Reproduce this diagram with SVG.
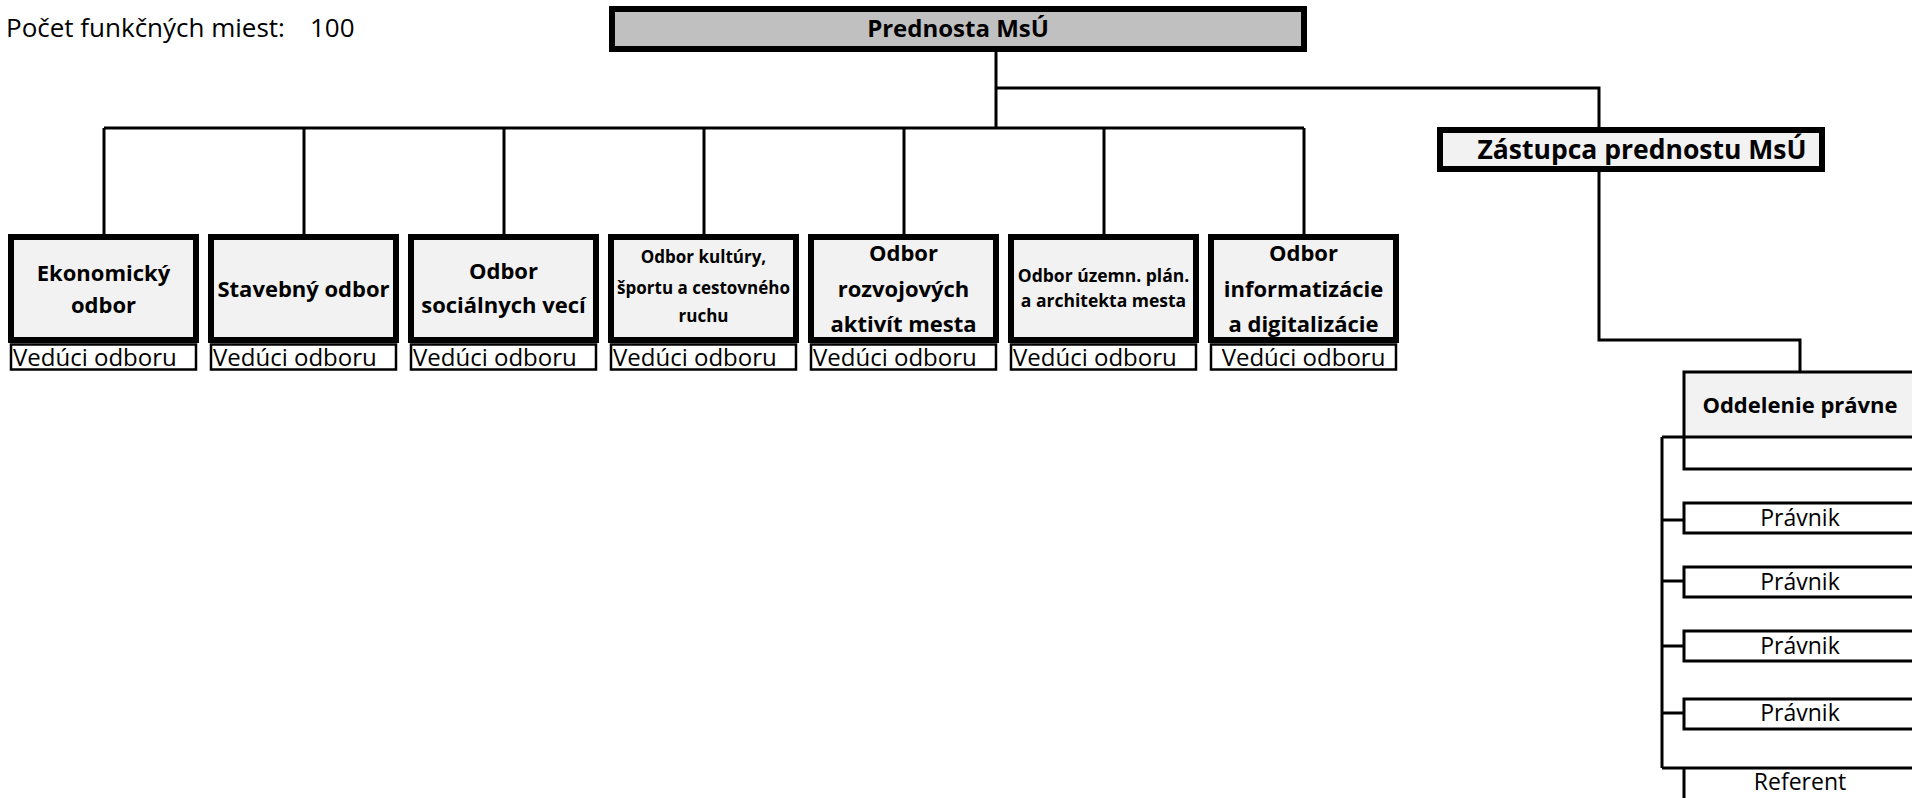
<svg xmlns="http://www.w3.org/2000/svg" width="1912" height="798" viewBox="0 0 1912 798">
<style>
text{font-family:"Open Sans","Liberation Sans",sans-serif;fill:#000}
.b{font-weight:bold;text-anchor:middle}
.big{font-size:22px}
.sm{font-size:17px}
.hd{font-size:24px}
.reg{font-size:24px}
.pr{font-size:23px}
.mid{text-anchor:middle}
.dept{fill:#f2f2f2;stroke:#000;stroke-width:6}
.head{fill:#c0c0c0;stroke:#000;stroke-width:6}
.lead{fill:#fff;stroke:#000;stroke-width:2.5}
.thin{fill:#fff;stroke:#000;stroke-width:3}
.grey{fill:#f2f2f2;stroke:none}
.con{fill:none;stroke:#000;stroke-width:3}
</style>
<rect width="1912" height="798" fill="#fff"/>
<text x="6" y="37" style="font-size:26px">Počet funkčných miest:</text>
<text x="310" y="37" style="font-size:26px">100</text>

<g id="connectors">
<path class="con" d="M996 52V128M104 128H1304M104 128V234M304 128V234M504 128V234M704 128V234M904 128V234M1104 128V234M1304 128V234"/>
<path class="con" d="M996 88H1599V127"/>
<path class="con" d="M1599 172V340H1800V372"/>
<path class="con" d="M1662 437V768M1662 520H1684M1662 581H1684M1662 646H1684M1662 713H1684"/>
</g>

<g id="prednosta">
<rect class="head" x="612" y="9" width="692" height="40"/>
<text class="b hd" x="958" y="37">Prednosta MsÚ</text>
</g>

<g id="zastupca">
<rect class="dept" x="1440" y="130" width="382" height="39"/>
<text class="b" x="1642" y="159" style="font-size:26.5px">Zástupca prednostu MsÚ</text>
</g>

<g id="ekonomicky">
<rect class="dept" x="11" y="237" width="185" height="103"/>
<text class="b big" x="103.5" y="281">Ekonomický</text>
<text class="b big" x="103.5" y="313">odbor</text>
<rect class="lead" x="11" y="344.5" width="185" height="25"/>
<text class="reg" x="13" y="366">Vedúci odboru</text>
</g>

<g id="stavebny">
<rect class="dept" x="211" y="237" width="185" height="103"/>
<text class="b big" x="303.5" y="297">Stavebný odbor</text>
<rect class="lead" x="211" y="344.5" width="185" height="25"/>
<text class="reg" x="213" y="366">Vedúci odboru</text>
</g>

<g id="socialnych">
<rect class="dept" x="411" y="237" width="185" height="103"/>
<text class="b big" x="503.5" y="279">Odbor</text>
<text class="b big" x="503.5" y="313">sociálnych vecí</text>
<rect class="lead" x="411" y="344.5" width="185" height="25"/>
<text class="reg" x="413" y="366">Vedúci odboru</text>
</g>

<g id="kultury">
<rect class="dept" x="611" y="237" width="185" height="103"/>
<text class="b sm" x="703.5" y="263">Odbor kultúry,</text>
<text class="b sm" x="703.5" y="294">športu a cestovného</text>
<text class="b sm" x="703.5" y="322">ruchu</text>
<rect class="lead" x="611" y="344.5" width="185" height="25"/>
<text class="reg" x="613" y="366">Vedúci odboru</text>
</g>

<g id="rozvojovych">
<rect class="dept" x="811" y="237" width="185" height="103"/>
<text class="b big" x="903.5" y="261">Odbor</text>
<text class="b big" x="903.5" y="297">rozvojových</text>
<text class="b big" x="903.5" y="332">aktivít mesta</text>
<rect class="lead" x="811" y="344.5" width="185" height="25"/>
<text class="reg" x="813" y="366">Vedúci odboru</text>
</g>

<g id="uzemn">
<rect class="dept" x="1011" y="237" width="185" height="103"/>
<text class="b sm" x="1103.5" y="282" style="font-size:17.5px">Odbor územn. plán.</text>
<text class="b sm" x="1103.5" y="307" style="font-size:17.5px">a architekta mesta</text>
<rect class="lead" x="1011" y="344.5" width="185" height="25"/>
<text class="reg" x="1013" y="366">Vedúci odboru</text>
</g>

<g id="informatizacie">
<rect class="dept" x="1211" y="237" width="185" height="103"/>
<text class="b big" x="1303.5" y="261">Odbor</text>
<text class="b big" x="1303.5" y="297">informatizácie</text>
<text class="b big" x="1303.5" y="332">a digitalizácie</text>
<rect class="lead" x="1211" y="344.5" width="185" height="25"/>
<text class="reg mid" x="1303.5" y="366">Vedúci odboru</text>
</g>

<g id="oddelenie">
<rect class="grey" x="1684" y="372" width="240" height="65"/>
<path class="con" d="M1930 372H1684V469H1930M1662 437H1930"/>
<text class="b big" x="1800" y="413">Oddelenie právne</text>
</g>

<g id="pravnik1">
<rect class="thin" x="1684" y="503" width="240" height="30"/>
<text class="pr mid" x="1800" y="526">Právnik</text>
</g>
<g id="pravnik2">
<rect class="thin" x="1684" y="567" width="240" height="30"/>
<text class="pr mid" x="1800" y="590">Právnik</text>
</g>
<g id="pravnik3">
<rect class="thin" x="1684" y="631" width="240" height="30"/>
<text class="pr mid" x="1800" y="654">Právnik</text>
</g>
<g id="pravnik4">
<rect class="thin" x="1684" y="699" width="240" height="30"/>
<text class="pr mid" x="1800" y="721">Právnik</text>
</g>
<g id="referent">
<path class="con" d="M1662 768H1930M1684 768V800"/>
<text class="pr mid" x="1800" y="790">Referent</text>
</g>
</svg>
